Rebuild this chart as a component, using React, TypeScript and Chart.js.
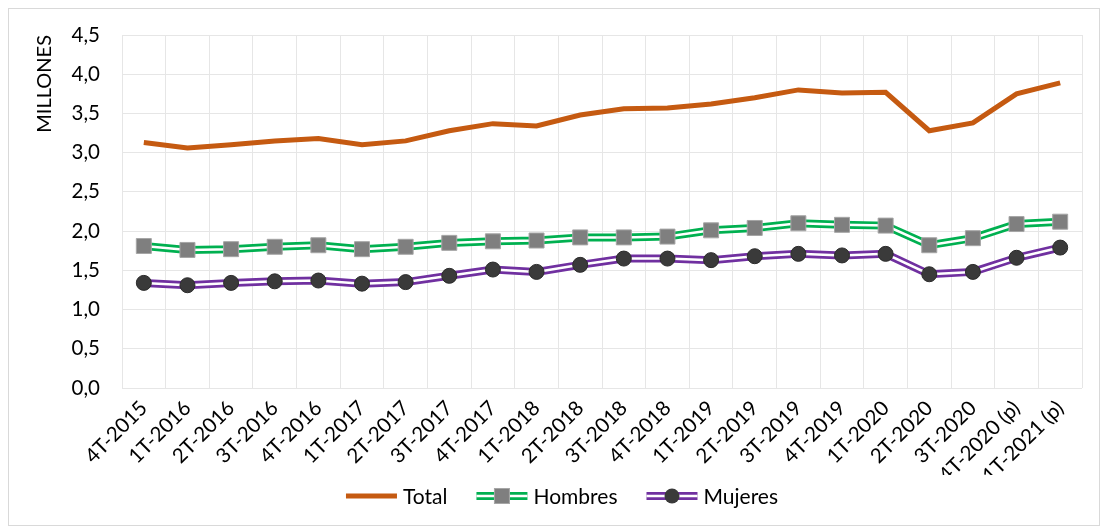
import React, { useEffect, useRef } from "react";
import { Chart, registerables } from "chart.js";

Chart.register(...registerables);

const categories = [
  "4T-2015", "1T-2016", "2T-2016", "3T-2016", "4T-2016", "1T-2017", "2T-2017",
  "3T-2017", "4T-2017", "1T-2018", "2T-2018", "3T-2018", "4T-2018", "1T-2019",
  "2T-2019", "3T-2019", "4T-2019", "1T-2020", "2T-2020", "3T-2020", "4T-2020 (p)",
  "1T-2021 (p)",
];

const totalValues = [
  3.13, 3.06, 3.10, 3.15, 3.18, 3.10, 3.15, 3.28, 3.37, 3.34, 3.48, 3.56, 3.57,
  3.62, 3.70, 3.80, 3.76, 3.77, 3.28, 3.38, 3.75, 3.89,
];

const hombresValues = [
  1.81, 1.76, 1.77, 1.80, 1.82, 1.77, 1.80, 1.85, 1.87, 1.88, 1.92, 1.92, 1.93,
  2.01, 2.04, 2.10, 2.08, 2.07, 1.82, 1.91, 2.09, 2.12,
];

const mujeresValues = [
  1.34, 1.31, 1.34, 1.36, 1.37, 1.33, 1.35, 1.43, 1.51, 1.48, 1.57, 1.65, 1.65,
  1.63, 1.68, 1.71, 1.69, 1.71, 1.45, 1.48, 1.66, 1.79,
];

const yMin = 0;
const yMax = 4.5;
const yStep = 0.5;

const FONT = "Lato, 'Open Sans', sans-serif";
const ORANGE = "#c55a11";
const GREEN = "#00b050";
const PURPLE = "#7030a0";
const SQUARE_FILL = "#7f7f7f";
const CIRCLE_FILL = "#3a3a3a";

const legendPlugin = {
  id: "customLegend",
  afterDraw(chart: any) {
    const ctx = chart.ctx as CanvasRenderingContext2D;
    ctx.save();
    ctx.font = `21px ${FONT}`;
    ctx.textBaseline = "middle";
    ctx.fillStyle = "#000";
    const items = [
      { label: "Total", kind: "total" },
      { label: "Hombres", kind: "h" },
      { label: "Mujeres", kind: "m" },
    ];
    const sampleW = 51;
    const gapText = 6;
    const gapItem = 29;
    const widths = items.map((it) => sampleW + gapText + ctx.measureText(it.label).width);
    const totalW = widths.reduce((a, b) => a + b, 0) + gapItem * (items.length - 1);
    let x = chart.width / 2 + 8 - totalW / 2;
    const y = chart.height - 29;
    items.forEach((it, i) => {
      if (it.kind === "total") {
        ctx.strokeStyle = ORANGE;
        ctx.lineWidth = 5;
        ctx.beginPath();
        ctx.moveTo(x, y);
        ctx.lineTo(x + sampleW, y);
        ctx.stroke();
      } else {
        const col = it.kind === "h" ? GREEN : PURPLE;
        ctx.strokeStyle = col;
        ctx.lineWidth = 8;
        ctx.beginPath();
        ctx.moveTo(x, y);
        ctx.lineTo(x + sampleW, y);
        ctx.stroke();
        ctx.strokeStyle = "#fff";
        ctx.lineWidth = 2.5;
        ctx.beginPath();
        ctx.moveTo(x, y);
        ctx.lineTo(x + sampleW, y);
        ctx.stroke();
        const cx = x + sampleW / 2;
        if (it.kind === "h") {
          ctx.fillStyle = SQUARE_FILL;
          ctx.fillRect(cx - 7.5, y - 7.5, 15, 15);
          ctx.strokeStyle = "#a6a6a6";
          ctx.lineWidth = 1;
          ctx.strokeRect(cx - 7.5, y - 7.5, 15, 15);
        } else {
          ctx.fillStyle = CIRCLE_FILL;
          ctx.beginPath();
          ctx.arc(cx, y, 7.5, 0, Math.PI * 2);
          ctx.fill();
        }
      }
      ctx.fillStyle = "#000";
      ctx.textAlign = "left";
      ctx.fillText(it.label, x + sampleW + gapText, y + 1);
      x += widths[i] + gapItem;
    });
    ctx.restore();
  },
};

const fmt = (v: number) => v.toFixed(1).replace(".", ",");

export default function App() {
  const canvasRef = useRef<HTMLCanvasElement | null>(null);

  useEffect(() => {
    if (!canvasRef.current) return;
    const chart = new Chart(canvasRef.current, {
      type: "line",
      data: {
        labels: categories,
        datasets: [
          {
            label: "Total",
            data: totalValues,
            borderColor: ORANGE,
            backgroundColor: ORANGE,
            borderWidth: 5,
            pointRadius: 0,
            tension: 0,
            order: 5,
          },
          {
            label: "Hombres",
            data: hombresValues,
            borderColor: GREEN,
            borderWidth: 8,
            pointRadius: 0,
            order: 4,
          },
          {
            label: "Hombres-inner",
            data: hombresValues,
            borderColor: "#ffffff",
            borderWidth: 2.5,
            pointRadius: 0,
            order: 3,
          },
          {
            label: "Hombres-markers",
            data: hombresValues,
            showLine: false,
            pointStyle: "rect",
            pointRadius: 10.6,
            pointBackgroundColor: SQUARE_FILL,
            pointBorderColor: "#a6a6a6",
            pointBorderWidth: 1,
            order: 1,
          },
          {
            label: "Mujeres",
            data: mujeresValues,
            borderColor: PURPLE,
            borderWidth: 8,
            pointRadius: 0,
            order: 4,
          },
          {
            label: "Mujeres-inner",
            data: mujeresValues,
            borderColor: "#ffffff",
            borderWidth: 2.5,
            pointRadius: 0,
            order: 3,
          },
          {
            label: "Mujeres-markers",
            data: mujeresValues,
            showLine: false,
            pointStyle: "circle",
            pointRadius: 7.5,
            pointBackgroundColor: CIRCLE_FILL,
            pointBorderColor: "#2b2b2b",
            pointBorderWidth: 1,
            order: 1,
          },
        ] as any,
      },
      options: {
        animation: false,
        responsive: true,
        maintainAspectRatio: false,
        layout: { padding: { top: 26, right: 17, bottom: 50, left: 0 } },
        plugins: {
          legend: { display: false },
          tooltip: { enabled: false },
        },
        scales: {
          x: {
            offset: true,
            grid: { offset: true, color: "#e6e6e6", drawTicks: false, lineWidth: 1 },
            border: { display: false },
            ticks: {
              minRotation: 45,
              maxRotation: 45,
              autoSkip: false,
              color: "#000",
              padding: 8,
              font: { family: FONT, size: 20.5 },
            },
            afterFit: (s: any) => {
              s.height = 87;
            },
          },
          y: {
            min: yMin,
            max: yMax,
            grid: {
              color: "#e6e6e6",
              drawTicks: true,
              tickLength: 22,
              tickColor: "rgba(0,0,0,0)",
            },
            border: { display: false },
            ticks: {
              stepSize: yStep,
              color: "#000",
              padding: 0,
              font: { family: FONT, size: 20.5 },
              callback: (v: any) => fmt(Number(v)),
            },
            title: {
              display: true,
              text: "MILLONES",
              align: "end",
              color: "#000",
              font: { family: FONT, size: 20 },
              padding: { top: 24, bottom: 0 },
            },
            afterFit: (s: any) => {
              s.width = 113;
            },
          },
        },
      } as any,
      plugins: [legendPlugin],
    });
    return () => chart.destroy();
  }, []);

  return (
    <div
      style={{
        width: 1092,
        height: 518,
        border: "1px solid #d9d9d9",
        boxSizing: "border-box",
        position: "relative",
        background: "#fff",
      }}
    >
      <canvas ref={canvasRef} />
    </div>
  );
}
